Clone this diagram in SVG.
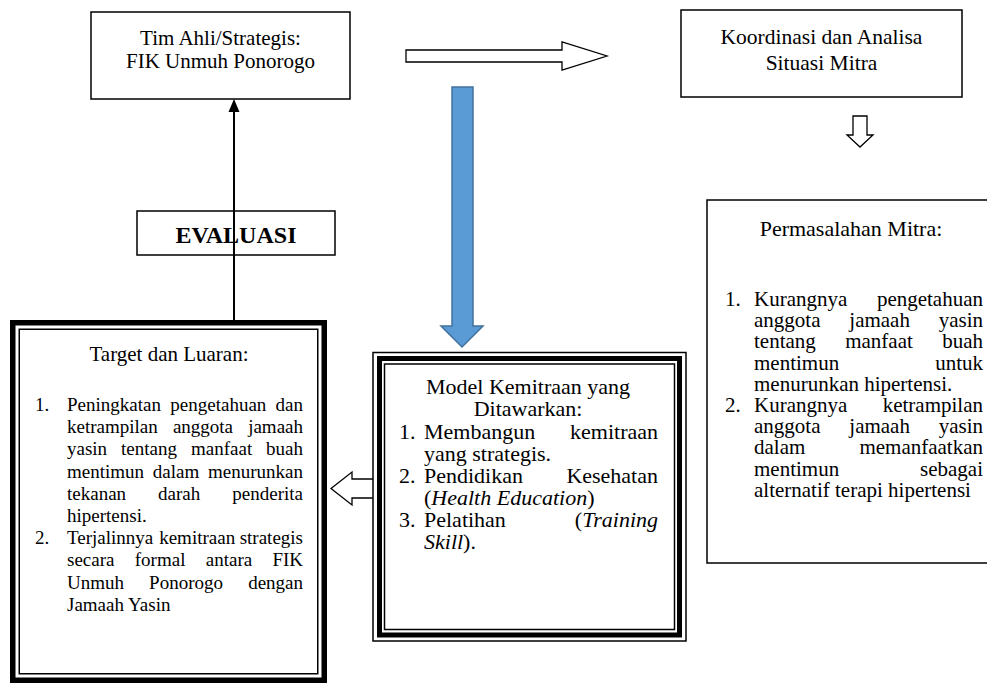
<svg xmlns="http://www.w3.org/2000/svg" width="987" height="684" viewBox="0 0 987 684" font-family="'Liberation Serif', 'Times New Roman', serif">
<defs>
<style>
text { font-family: "Liberation Serif", "Times New Roman", serif; fill: #000; }
.box { fill: #fff; stroke: #000; stroke-width: 1.5; }
.hollow { fill: #fff; stroke: #000; stroke-width: 1.3; stroke-linejoin: miter; }
.e { text-anchor: end; }
.m { text-anchor: middle; }
.i { font-style: italic; }
.b { font-weight: bold; }
</style>
</defs>
<rect width="987" height="684" fill="#fff"/>

<g id="connectors">
  <polygon class="hollow" points="406,50 562,50 562,42 607,56 562,70 562,62 406,62"/>
  <polygon class="hollow" points="853,116 867,116 867,135 873,135 860,147 847,135 853,135"/>
  <polygon class="hollow" points="386,479 352,479 352,472 331,488.5 352,505 352,498 386,498"/>
  <polygon points="452,87 473,87 473,326 483,326 462,347 441,326 452,326" fill="#5B9BD5" stroke="#41719C" stroke-width="1.5"/>
</g>

<g id="tim-ahli">
  <rect class="box" x="91" y="12" width="259" height="87"/>
  <g font-size="21">
    <text class="m" x="220.5" y="45">Tim Ahli/Strategis:</text>
    <text class="m" x="220.5" y="68">FIK Unmuh Ponorogo</text>
  </g>
</g>

<g id="koordinasi">
  <rect class="box" x="681" y="10" width="281" height="87"/>
  <g font-size="21.5">
    <text class="m" x="821.5" y="44">Koordinasi dan Analisa</text>
    <text class="m" x="821.5" y="70">Situasi Mitra</text>
  </g>
</g>

<g id="permasalahan">
  <rect class="box" x="707" y="200" width="300" height="363"/>
  <text class="m" x="851" y="236" font-size="22">Permasalahan Mitra:</text>
  <g font-size="21">
    <text x="725" y="306">1.</text>
    <text x="754" y="306">Kurangnya</text><text class="e" x="983" y="306">pengetahuan</text>
    <text x="754" y="327">anggota</text><text x="849.3" y="327">jamaah</text><text class="e" x="983" y="327">yasin</text>
    <text x="754" y="348">tentang</text><text x="845.2" y="348">manfaat</text><text class="e" x="983" y="348">buah</text>
    <text x="754" y="370">mentimun</text><text class="e" x="983" y="370">untuk</text>
    <text x="754" y="391">menurunkan hipertensi.</text>
    <text x="725" y="412">2.</text>
    <text x="754" y="412">Kurangnya</text><text class="e" x="983" y="412">ketrampilan</text>
    <text x="754" y="433">anggota</text><text x="849.3" y="433">jamaah</text><text class="e" x="983" y="433">yasin</text>
    <text x="754" y="454">dalam</text><text class="e" x="983" y="454">memanfaatkan</text>
    <text x="754" y="476">mentimun</text><text class="e" x="983" y="476">sebagai</text>
    <text x="754" y="497">alternatif terapi hipertensi</text>
  </g>
</g>

<g id="model-kemitraan">
  <rect x="373" y="352.5" width="313" height="288.5" fill="#fff" stroke="#000" stroke-width="1.5"/>
  <rect x="379.5" y="358.5" width="300" height="276.5" fill="none" stroke="#000" stroke-width="5"/>
  <rect x="384.5" y="364" width="290" height="265.5" fill="none" stroke="#000" stroke-width="1.5"/>
  <g font-size="22">
    <text class="m" x="528" y="394">Model Kemitraan yang</text>
    <text class="m" x="528" y="416">Ditawarkan:</text>
    <text x="399" y="438.5">1.</text>
    <text x="424" y="438.5">Membangun</text><text class="e" x="658" y="438.5">kemitraan</text>
    <text x="424" y="461">yang strategis.</text>
    <text x="399" y="483">2.</text>
    <text x="424" y="483">Pendidikan</text><text class="e" x="658" y="483">Kesehatan</text>
    <text x="424" y="505">(<tspan class="i">Health Education</tspan>)</text>
    <text x="399" y="527">3.</text>
    <text x="424" y="527">Pelatihan</text><text class="e" x="658" y="527">(<tspan class="i">Training</tspan></text>
    <text x="424" y="549"><tspan class="i">Skill</tspan>).</text>
  </g>
</g>

<g id="target-luaran">
  <rect x="12.75" y="322.75" width="311.5" height="357.5" fill="#fff" stroke="#000" stroke-width="5.5"/>
  <rect x="19.25" y="329.25" width="298.5" height="344.5" fill="none" stroke="#000" stroke-width="1.5"/>
  <text class="m" x="169" y="361" font-size="21">Target dan Luaran:</text>
  <g font-size="19">
    <text x="35" y="411">1.</text>
    <text x="67" y="411">Peningkatan</text><text x="170.3" y="411">pengetahuan</text><text class="e" x="303" y="411">dan</text>
    <text x="67" y="433">ketrampilan</text><text x="172.9" y="433">anggota</text><text class="e" x="303" y="433">jamaah</text>
    <text x="67" y="455">yasin</text><text x="121.1" y="455">tentang</text><text x="191" y="455">manfaat</text><text class="e" x="303" y="455">buah</text>
    <text x="67" y="478">mentimun</text><text x="152.8" y="478">dalam</text><text class="e" x="303" y="478">menurunkan</text>
    <text x="67" y="500">tekanan</text><text x="158.1" y="500">darah</text><text class="e" x="303" y="500">penderita</text>
    <text x="67" y="522">hipertensi.</text>
    <text x="35" y="544">2.</text>
    <text x="67" y="544">Terjalinnya</text><text x="159.2" y="544">kemitraan</text><text class="e" x="303" y="544">strategis</text>
    <text x="67" y="566">secara</text><text x="134.8" y="566">formal</text><text x="205.8" y="566">antara</text><text class="e" x="303" y="566">FIK</text>
    <text x="67" y="589">Unmuh</text><text x="149.1" y="589">Ponorogo</text><text class="e" x="303" y="589">dengan</text>
    <text x="67" y="611">Jamaah Yasin</text>
  </g>
</g>

<g id="evaluasi">
  <rect class="box" x="137" y="211" width="198" height="44"/>
  <text class="b m" x="236" y="243" font-size="24">EVALUASI</text>
</g>

<g id="connector-up">
  <line x1="234" y1="320" x2="234" y2="110" stroke="#000" stroke-width="2"/>
  <polygon points="234,99 228.5,112 239.5,112" fill="#000"/>
</g>
</svg>
